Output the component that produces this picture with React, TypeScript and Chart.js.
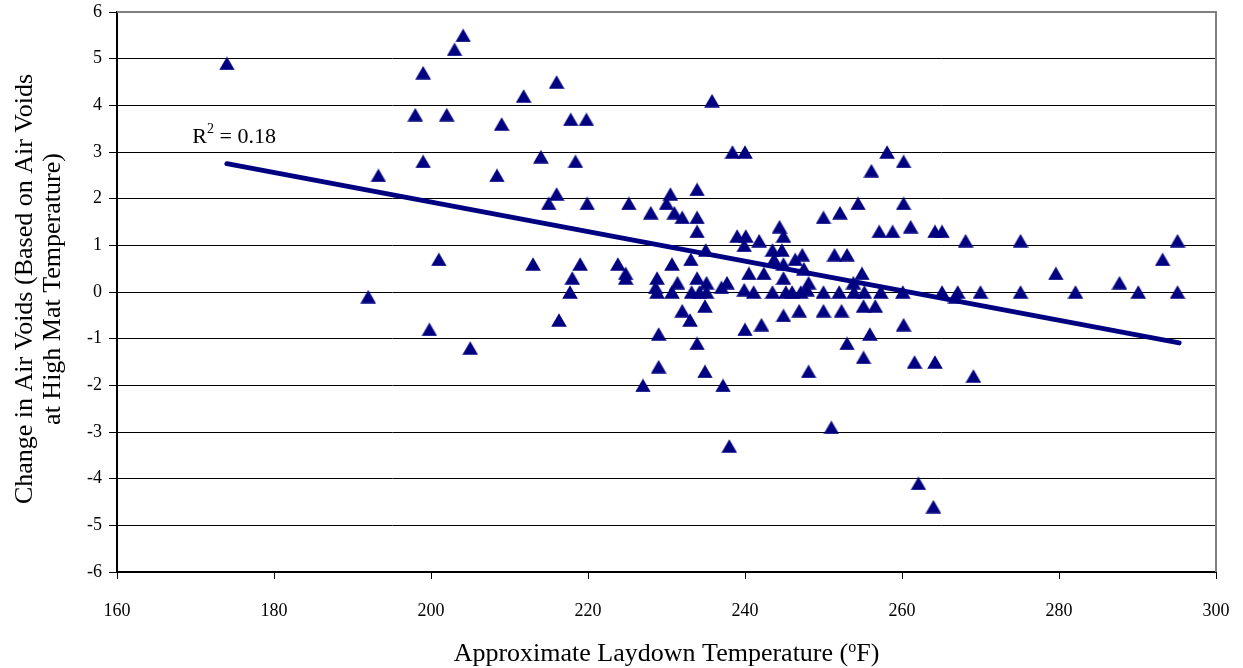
import React, { useEffect, useRef } from "react";
import { Chart, registerables } from "chart.js";

Chart.register(...registerables);

// Approximate laydown temperature (°F)
const laydownTemp: number[] = [
  174, 192, 193.3, 198, 199, 199, 199.8, 201, 202, 203, 204.1, 205,
  208.4, 209, 211.8, 213, 214, 215, 216, 216, 216.3, 217.7, 217.8, 218,
  218.4, 219, 219.8, 219.9, 223.8, 224.8, 224.8, 225.2, 227, 228, 228.8, 228.6,
  228.8, 229, 229, 230, 230.5, 230.7, 230.7, 231, 231.4, 232, 232, 233,
  233.1, 233.2, 233.9, 233.9, 233.9, 233.9, 233.9, 234.2, 234.9, 234.9, 235, 235.1,
  235.1, 235.8, 237, 237.2, 237.7, 238, 238.4, 239, 239.9, 239.9, 240, 240.1,
  240, 240.5, 241.1, 241.8, 242.1, 242.4, 243.5, 243.5, 243.7, 244.4, 244.7, 244.9,
  244.9, 244.9, 245.2, 244.9, 246, 246.4, 246.9, 247.1, 247.3, 247.5, 247.9, 248.1,
  248.1, 250, 250, 250, 251, 251.4, 252.1, 252, 252.3, 253, 253, 253.8,
  253.9, 254.4, 254.9, 255.2, 255.1, 255.1, 255.9, 256.1, 256.6, 257.1, 257.3, 258.1,
  258.8, 260.2, 260.2, 260.1, 260.2, 261.1, 261.6, 262.1, 264, 264.2, 264.2, 265.1,
  265.1, 266.8, 267.1, 268.1, 269.1, 270, 275.1, 275.1, 279.6, 282.1, 287.7, 290.1,
  293.2, 295.1, 295.1,
];

// Change in air voids (based on air voids at high mat temperature)
const voidChange: number[] = [
  4.9, -0.1, 2.5, 3.8, 4.7, 2.8, -0.8, 0.7, 3.8, 5.2, 5.5, -1.2,
  2.5, 3.6, 4.2, 0.6, 2.9, 1.9, 4.5, 2.1, -0.6, 0.0, 3.7, 0.3,
  2.8, 0.6, 3.7, 1.9, 0.6, 0.4, 0.3, 1.9, -2.0, 1.7, 0.3, 0.1,
  0.0, -0.9, -1.6, 1.9, 2.1, 0.6, 0.0, 1.7, 0.2, 1.6, -0.4, -0.6,
  0.7, 0.0, 2.2, 1.6, 1.3, 0.3, -1.1, 0.0, -0.3, -1.7, 0.9, 0.2,
  0.0, 4.1, 0.1, -2.0, 0.2, -3.3, 3.0, 1.2, 1.0, 0.05, 3.0, 1.2,
  -0.8, 0.4, 0.0, 1.1, -0.7, 0.4, 0.9, 0.0, 0.7, 1.4, 0.9, 1.2,
  0.6, 0.3, 0.0, -0.5, 0.0, 0.7, -0.4, 0.0, 0.8, 0.5, 0.05, 0.2,
  -1.7, 1.6, 0.0, -0.4, -2.9, 0.8, 1.7, 0.0, -0.4, 0.8, -1.1, 0.2,
  0.0, 1.9, 0.4, 0.0, -0.3, -1.4, -0.9, 2.6, -0.3, 1.3, 0.0, 3.0,
  1.3, 2.8, 1.9, 0.0, -0.7, 1.4, -1.5, -4.1, -4.6, 1.3, -1.5, 1.3,
  0.0, -0.1, 0.0, 1.1, -1.8, 0.0, 1.1, 0.0, 0.4, 0.0, 0.2, 0.0,
  0.7, 1.1, 0.0,
];

// Linear trend line end points (R² = 0.18)
const trendTemp: number[] = [174, 295.3];
const trendVoids: number[] = [2.75, -1.09];
const r2Value = "0.18";
const r2LabelAt = { x: 169.6, y: 3.37 };

const xTitleMain = "Approximate Laydown Temperature (";
const xTitleSup = "o";
const xTitleEnd = "F)";
const yTitleLines = ["Change in Air Voids (Based on Air Voids", "at High Mat Temperature)"];

const NAVY = "#000080";
const FONT = "'Liberation Serif', 'Times New Roman', serif";

function makeTriangle(): HTMLCanvasElement {
  const c = document.createElement("canvas");
  c.width = 16;
  c.height = 14;
  const g = c.getContext("2d");
  if (g) {
    g.fillStyle = NAVY;
    g.beginPath();
    g.moveTo(8, 0.3);
    g.lineTo(15.8, 13.7);
    g.lineTo(0.2, 13.7);
    g.closePath();
    g.fill();
  }
  return c;
}

export default function App() {
  const canvasRef = useRef<HTMLCanvasElement | null>(null);

  useEffect(() => {
    const canvas = canvasRef.current;
    if (!canvas) return;

    const textPlugin = {
      id: "customText",
      afterDraw(chart: any) {
        const ctx = chart.ctx as CanvasRenderingContext2D;
        const area = chart.chartArea;
        const xs = chart.scales.x;
        const ys = chart.scales.y;
        ctx.save();

        // top and right borders (grey)
        ctx.strokeStyle = "#808080";
        ctx.lineWidth = 2;
        ctx.beginPath();
        ctx.moveTo(area.left, area.top);
        ctx.lineTo(area.right, area.top);
        ctx.lineTo(area.right, area.bottom);
        ctx.stroke();

        ctx.fillStyle = "#000";
        ctx.textBaseline = "alphabetic";

        // X title with superscript
        const bigX = `26px ${FONT}`;
        const smallX = `16px ${FONT}`;
        ctx.font = bigX;
        const w1 = ctx.measureText(xTitleMain).width;
        const w3 = ctx.measureText(xTitleEnd).width;
        ctx.font = smallX;
        const w2 = ctx.measureText(xTitleSup).width;
        const total = w1 + w2 + w3;
        const cx = (area.left + area.right) / 2;
        let sx = cx - total / 2;
        const by = 661;
        ctx.textAlign = "left";
        ctx.font = bigX;
        ctx.fillText(xTitleMain, sx, by);
        sx += w1;
        ctx.font = smallX;
        ctx.fillText(xTitleSup, sx, by - 9);
        sx += w2;
        ctx.font = bigX;
        ctx.fillText(xTitleEnd, sx, by);

        // Y title
        ctx.save();
        const cy = (area.top + area.bottom) / 2 - 3;
        ctx.translate(0, cy);
        ctx.rotate(-Math.PI / 2);
        ctx.textAlign = "center";
        ctx.font = `26px ${FONT}`;
        ctx.fillText(yTitleLines[0], 0, 32);
        ctx.fillText(yTitleLines[1], 0, 60);
        ctx.restore();

        // R² label
        const lx = xs.getPixelForValue(r2LabelAt.x);
        const ly = ys.getPixelForValue(r2LabelAt.y) + 8;
        ctx.textAlign = "left";
        ctx.font = `22px ${FONT}`;
        ctx.fillText("R", lx, ly);
        const rw = ctx.measureText("R").width;
        ctx.font = `14px ${FONT}`;
        ctx.fillText("2", lx + rw, ly - 10);
        const sw = ctx.measureText("2").width;
        ctx.font = `22px ${FONT}`;
        ctx.fillText(" = " + r2Value, lx + rw + sw, ly);

        ctx.restore();
      },
    };

    const scatterData = laydownTemp.map((t, i) => ({ x: t, y: voidChange[i] }));
    const trendData = trendTemp.map((t, i) => ({ x: t, y: trendVoids[i] }));
    const tri = makeTriangle();

    const chart = new Chart(canvas, {
      type: "scatter",
      data: {
        datasets: [
          {
            label: "Air voids change",
            data: scatterData,
            pointStyle: tri as any,
            pointRadius: 8,
            pointBackgroundColor: NAVY,
            pointBorderColor: NAVY,
            pointBorderWidth: 0,
            order: 2,
          },
          {
            label: "Trend",
            type: "line",
            data: trendData,
            showLine: true,
            borderColor: NAVY,
            borderWidth: 5,
            borderCapStyle: "round",
            pointRadius: 0,
            fill: false,
            order: 1,
          } as any,
        ],
      },
      plugins: [textPlugin],
      options: {
        responsive: false,
        animation: false,
        devicePixelRatio: 1,
        layout: { padding: { top: 12, right: 27, left: 0, bottom: 0 } },
        plugins: {
          legend: { display: false },
          tooltip: { enabled: false },
          title: { display: false },
        },
        scales: {
          x: {
            type: "linear",
            min: 160,
            max: 300,
            afterFit: (s: any) => {
              s.height = 96;
              s.paddingLeft = 0;
              s.paddingRight = 0;
            },
            ticks: {
              stepSize: 20,
              color: "#000",
              font: { family: FONT, size: 18 },
              padding: 21,
              maxRotation: 0,
            },
            grid: {
              drawOnChartArea: false,
              drawTicks: true,
              tickLength: 7,
              color: "#000",
              lineWidth: 1,
            },
            border: { display: true, color: "#000", width: 2 },
          },
          y: {
            type: "linear",
            min: -6,
            max: 6,
            afterFit: (s: any) => {
              s.width = 117;
              s.paddingTop = 0;
              s.paddingBottom = 0;
            },
            ticks: {
              stepSize: 1,
              color: "#000",
              font: { family: FONT, size: 18 },
              padding: 7,
            },
            grid: {
              drawOnChartArea: true,
              drawTicks: true,
              tickLength: 8,
              color: "#000",
              lineWidth: 1,
            },
            border: { display: true, color: "#000", width: 2 },
          },
        },
      },
    });

    return () => {
      chart.destroy();
    };
  }, []);

  return (
    <div style={{ position: "absolute", left: 0, top: 0, width: 1243, height: 668, background: "#fff" }}>
      <canvas ref={canvasRef} width={1243} height={668} style={{ display: "block" }} />
    </div>
  );
}
